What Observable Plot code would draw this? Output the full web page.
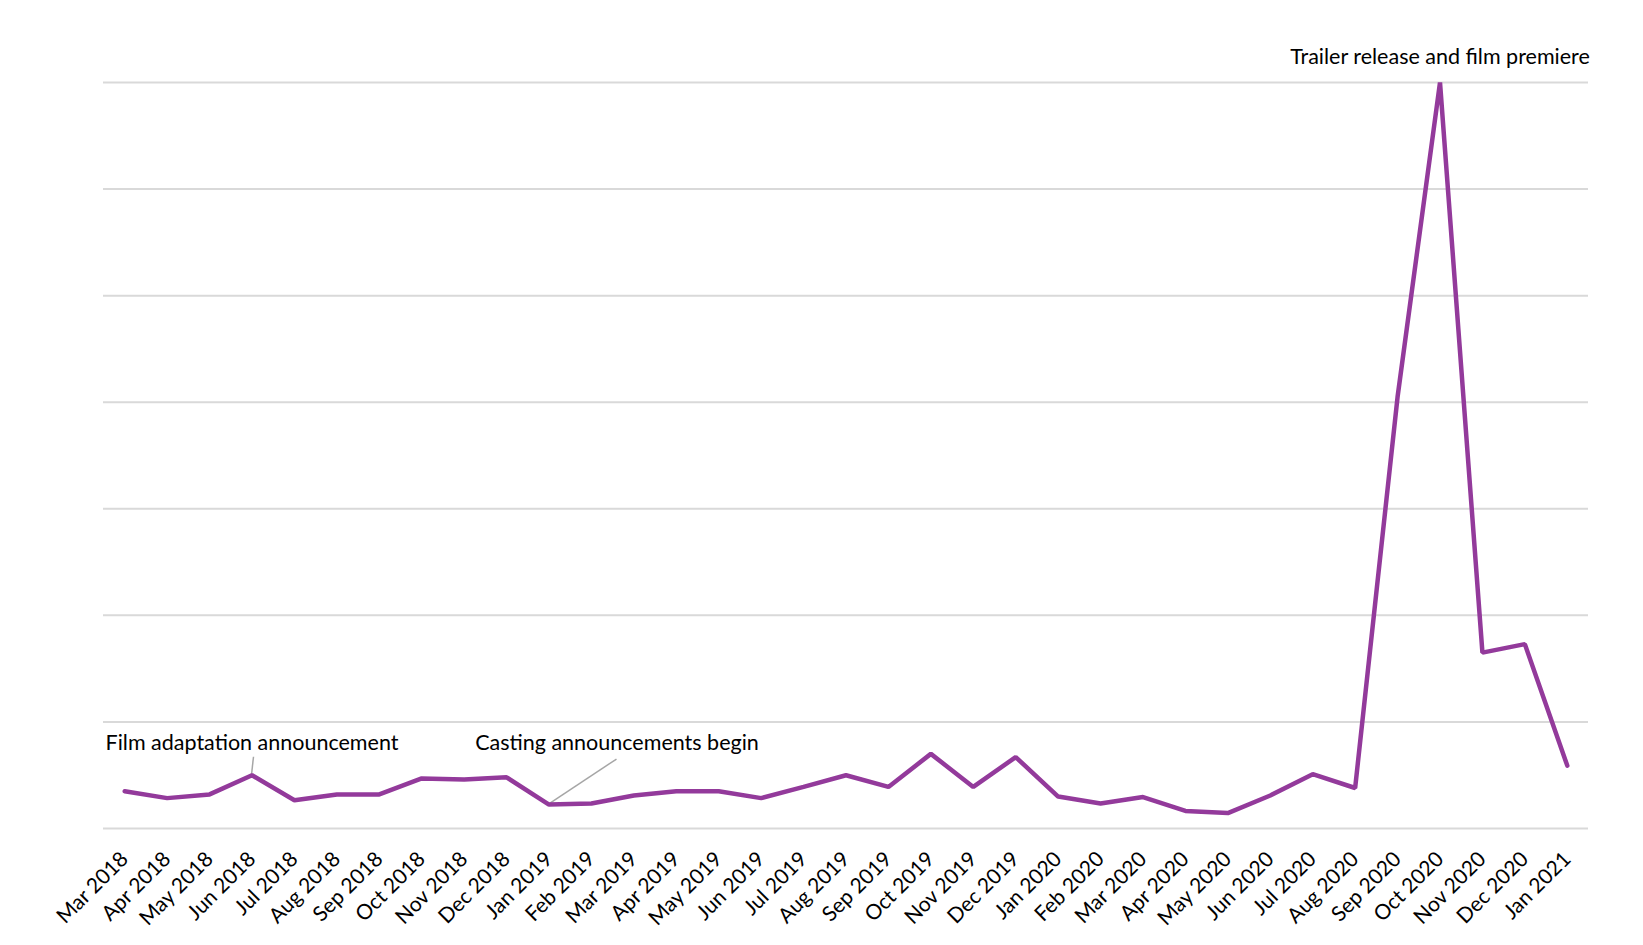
<!DOCTYPE html>
<html>
<head>
<meta charset="utf-8">
<script src="https://cdn.jsdelivr.net/npm/d3@7"></script>
<script src="https://cdn.jsdelivr.net/npm/@observablehq/plot@0.6"></script>
<style>
  html, body { margin: 0; padding: 0; background: #fff; }
  #chart svg { display: block; }
</style>
</head>
<body>
<div id="chart"></div>
<script>
const months = [
  "Mar 2018","Apr 2018","May 2018","Jun 2018","Jul 2018","Aug 2018","Sep 2018","Oct 2018","Nov 2018","Dec 2018",
  "Jan 2019","Feb 2019","Mar 2019","Apr 2019","May 2019","Jun 2019","Jul 2019","Aug 2019","Sep 2019","Oct 2019",
  "Nov 2019","Dec 2019","Jan 2020","Feb 2020","Mar 2020","Apr 2020","May 2020","Jun 2020","Jul 2020","Aug 2020",
  "Sep 2020","Oct 2020","Nov 2020","Dec 2020","Jan 2021"
];
const values = [
  3.5, 2.85, 3.2, 5.0, 2.65, 3.2, 3.2, 4.7, 4.6, 4.8,
  2.25, 2.35, 3.1, 3.5, 3.5, 2.85, 3.9, 5.0, 3.9, 7.0,
  3.9, 6.7, 3.0, 2.35, 2.95, 1.65, 1.45, 3.1, 5.1, 3.8,
  40.5, 70, 16.5, 17.3, 5.9
];
const gridValues = [0, 10, 20, 30, 40, 50, 60, 70];
const annotationMonths = ["Jun 2018", "Jan 2019", "Oct 2020"];
const annotationLabels = ["Film adaptation announcement", "Casting announcements begin", "Trailer release and film premiere"];

const data = months.map((m, i) => ({month: m, value: values[i]}));
const annotations = annotationMonths.map((m, i) => ({month: m, value: values[months.indexOf(m)], label: annotationLabels[i]}));

const font = "Lato, 'Open Sans', sans-serif";
const purple = "#933a9b";

const chart = Plot.plot({
  width: 1643,
  height: 945,
  marginLeft: 103,
  marginRight: 55,
  marginTop: 82,
  marginBottom: 117,
  style: {fontFamily: font, fontSize: "21px", color: "#000", background: "#fff"},
  x: {type: "point", domain: months, padding: 0.5, round: false, label: null, tickRotate: -45, tickSize: 0, tickPadding: 27},
  y: {domain: [0, 70], axis: null},
  marks: [
    Plot.ruleY(gridValues, {stroke: "#d9d9d9", strokeWidth: 2}),
    Plot.line(data, {x: "month", y: "value", stroke: purple, strokeWidth: 4.5, strokeLinejoin: "miter"}),
    Plot.text([annotations[0]], {x: "month", y: "value", text: "label", dy: -32, fontSize: 21.5, fill: "#000", textAnchor: "middle"}),
    Plot.text([annotations[1]], {x: "month", y: "value", text: "label", dx: 68, dy: -61, fontSize: 21.5, fill: "#000", textAnchor: "middle"}),
    Plot.text([annotations[2]], {x: "month", y: "value", text: "label", dy: -25, fontSize: 21.5, fill: "#000", textAnchor: "middle"})
  ]
});

// leader lines positioned with the chart's own scales
const xs = chart.scale("x"), ys = chart.scale("y");
const svg = d3.select(chart);
const a0 = annotations[0], a1 = annotations[1];
const x0 = xs.apply(a0.month), y0 = ys.apply(a0.value);
svg.append("line").attr("x1", x0).attr("y1", y0).attr("x2", x0 + 2).attr("y2", y0 - 18)
  .attr("stroke", "#a6a6a6").attr("stroke-width", 1.5);
const x1 = xs.apply(a1.month), y1 = ys.apply(a1.value);
svg.append("line").attr("x1", x1).attr("y1", y1).attr("x2", x1 + 68).attr("y2", y1 - 45)
  .attr("stroke", "#a6a6a6").attr("stroke-width", 1.5);
svg.selectAll("[aria-label=line]").raise();

document.getElementById("chart").appendChild(chart);
</script>
</body>
</html>
